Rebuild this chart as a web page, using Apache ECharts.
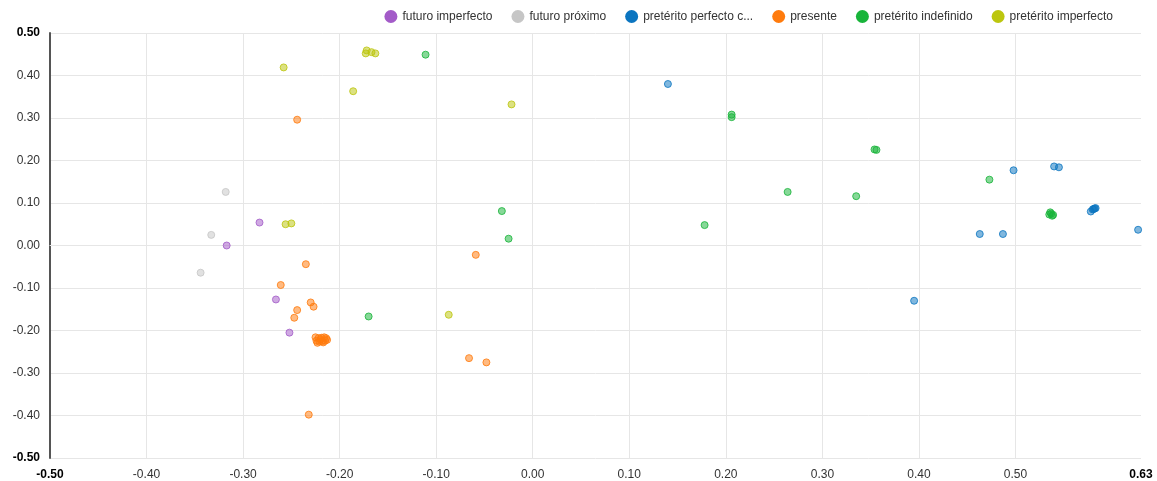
<!DOCTYPE html>
<html>
<head>
<meta charset="utf-8">
<script src="https://cdn.jsdelivr.net/npm/echarts@6/dist/echarts.min.js"></script>
<style>
  html, body { margin: 0; padding: 0; background: #fff; }
  #chart { width: 1157px; height: 481px; }
</style>
</head>
<body>
<div id="chart"></div>
<script>
// Tense groups and their [x, y] coordinates
const seriesNames = [
  'futuro imperfecto',
  'futuro próximo',
  'pretérito perfecto compuesto',
  'presente',
  'pretérito indefinido',
  'pretérito imperfecto'
];
const seriesColors = ['#a35bc8', '#c6c6c6', '#0b75c0', '#ff7b0d', '#18b43a', '#bcc60e'];

const futuroImperfecto = [
  [-0.283, 0.054], [-0.317, 0.000], [-0.266, -0.127], [-0.252, -0.205]
];
const futuroProximo = [
  [-0.318, 0.126], [-0.333, 0.025], [-0.344, -0.064]
];
const preteritoPerfecto = [
  [0.140, 0.380], [0.498, 0.177], [0.540, 0.186], [0.545, 0.184],
  [0.578, 0.080], [0.580, 0.085], [0.582, 0.087], [0.583, 0.088], [0.581, 0.086],
  [0.463, 0.027], [0.487, 0.027], [0.627, 0.037], [0.395, -0.130]
];
const presente = [
  [-0.244, 0.296], [-0.235, -0.044], [-0.261, -0.093], [-0.230, -0.134],
  [-0.227, -0.144], [-0.244, -0.152], [-0.247, -0.170],
  [-0.225, -0.216], [-0.222, -0.218], [-0.219, -0.217], [-0.216, -0.216],
  [-0.214, -0.218], [-0.224, -0.224], [-0.221, -0.226], [-0.218, -0.225],
  [-0.215, -0.224], [-0.213, -0.222], [-0.220, -0.221], [-0.217, -0.228],
  [-0.223, -0.229], [-0.232, -0.398],
  [-0.059, -0.022], [-0.066, -0.265], [-0.048, -0.275]
];
const preteritoIndefinido = [
  [-0.111, 0.449], [0.206, 0.308], [0.206, 0.302], [0.354, 0.226], [0.356, 0.225],
  [0.264, 0.126], [0.335, 0.116], [0.473, 0.155],
  [0.536, 0.078], [0.535, 0.073], [0.538, 0.070], [0.537, 0.075], [0.539, 0.072],
  [-0.032, 0.081], [0.178, 0.048], [-0.025, 0.016], [-0.170, -0.167]
];
const preteritoImperfecto = [
  [-0.258, 0.419], [-0.173, 0.452], [-0.172, 0.459], [-0.167, 0.455], [-0.163, 0.452],
  [-0.186, 0.363], [-0.022, 0.332], [-0.256, 0.050], [-0.250, 0.052], [-0.087, -0.163]
];
const seriesData = [
  futuroImperfecto, futuroProximo, preteritoPerfecto,
  presente, preteritoIndefinido, preteritoImperfecto
];

// Axis ranges and tick labels
const xMin = -0.5, xMax = 0.63;
const yMin = -0.5, yMax = 0.5;
const xLabelValues = [-0.5, -0.4, -0.3, -0.2, -0.1, 0, 0.1, 0.2, 0.3, 0.4, 0.5, 0.63];

const FONT = '"Liberation Sans", Arial, Helvetica, sans-serif';

function fmt(v, lo, hi) {
  const s = Number(v).toFixed(2);
  if (Math.abs(v - lo) < 1e-9 || Math.abs(v - hi) < 1e-9) return '{b|' + s + '}';
  return s;
}

const labelRich = { b: { fontWeight: 'bold', color: '#000', fontSize: 12, fontFamily: FONT } };

// x split lines: keep -0.4 .. 0.5, hide 0.6 and the closing 0.63 line
const xSplitColors = [];
for (let i = 0; i < 14; i++) xSplitColors.push(i >= 11 ? 'rgba(0,0,0,0)' : '#e6e6e6');

const chart = echarts.init(document.getElementById('chart'), null, { renderer: 'canvas' });

chart.setOption({
  animation: false,
  backgroundColor: '#fff',
  textStyle: { fontFamily: FONT },
  legend: {
    top: 5,
    right: 39,
    icon: 'circle',
    itemWidth: 13,
    itemHeight: 13,
    itemGap: 19,
    itemStyle: { opacity: 1, borderWidth: 0 },
    textStyle: { fontSize: 12, color: '#333', fontFamily: FONT },
    formatter: function (name) {
      return name.length > 22 ? name.slice(0, 20) + '...' : name;
    },
    data: seriesNames.map(function (name, i) {
      return { name: name, itemStyle: { color: seriesColors[i], opacity: 1, borderWidth: 0 } };
    })
  },
  grid: { left: 50, right: 16, top: 33, bottom: 22, containLabel: false },
  xAxis: {
    type: 'value',
    min: xMin,
    max: xMax,
    interval: 0.1,
    axisLine: { show: true, lineStyle: { color: '#e6e6e6', width: 1 } },
    axisTick: { show: false },
    splitLine: { show: true, lineStyle: { color: xSplitColors, width: 1 } },
    axisLabel: {
      customValues: xLabelValues,
      margin: 11,
      fontSize: 12,
      color: '#333',
      fontFamily: FONT,
      formatter: function (v) { return fmt(v, xMin, xMax); },
      rich: labelRich
    }
  },
  yAxis: {
    type: 'value',
    min: yMin,
    max: yMax,
    interval: 0.1,
    axisLine: { show: true, onZero: false, lineStyle: { color: '#555', width: 2 } },
    axisTick: { show: false },
    splitLine: { show: true, lineStyle: { color: '#e6e6e6', width: 1 } },
    axisLabel: {
      margin: 10,
      fontSize: 12,
      color: '#333',
      fontFamily: FONT,
      formatter: function (v) { return fmt(v, yMin, yMax); },
      rich: labelRich
    }
  },
  series: seriesNames.map(function (name, i) {
    return {
      name: name,
      type: 'scatter',
      symbol: 'circle',
      symbolSize: 7,
      data: seriesData[i],
      itemStyle: {
        color: echarts.color.modifyAlpha(seriesColors[i], 0.65),
        borderColor: seriesColors[i],
        borderWidth: 1
      },
      emphasis: { disabled: true }
    };
  }),
  color: seriesColors
});
</script>
</body>
</html>
